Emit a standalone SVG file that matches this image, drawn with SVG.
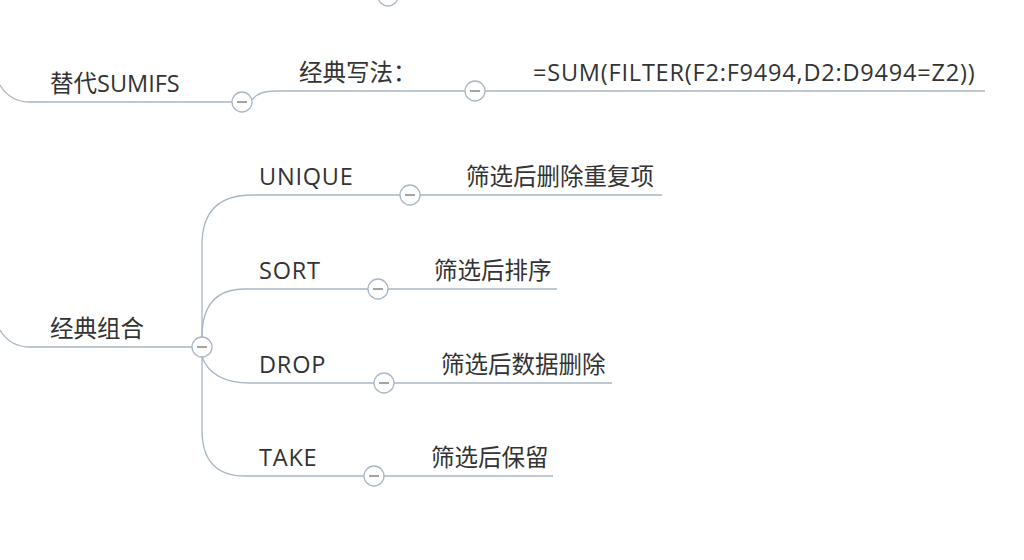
<svg xmlns="http://www.w3.org/2000/svg" width="1024" height="560" viewBox="0 0 1024 560">
<style>
.l{fill:none;stroke:#a9b6c6;stroke-width:1.3}
.c{fill:#fff;stroke:#a9b6c6;stroke-width:1.3}
.m{stroke:#666;stroke-width:1.2}
text{font-family:"Open Sans","Noto Sans CJK SC",sans-serif;font-size:23.5px;fill:#333}
</style>
<rect width="1024" height="560" fill="#fff"/>
<g id="connectors">
<path class="l" d="M0,85 Q10,102 30,102 H232"/>
<path class="l" d="M252,100 Q258,91 275,91 H465 M485,91 H985"/>
<path class="l" d="M0,330 Q10,347 30,347 H192"/>
<path class="l" d="M202,337 V245 Q202,195 252,195 H400 M420,195 H662"/>
<path class="l" d="M202,337 Q202,289 245,289 H368 M388,289 H557"/>
<path class="l" d="M202,357 Q212,383 250,383 H374 M394,383 H612"/>
<path class="l" d="M202,357 V430 Q202,476 245,476 H364 M384,476 H553"/>
</g>
<g id="top"><circle class="c" cx="388" cy="-4" r="10"/></g>
<g id="n1"><text x="50" y="92">替代SUMIFS</text><circle class="c" cx="242" cy="102" r="10"/><line class="m" x1="237" y1="102" x2="247" y2="102"/></g>
<g id="n2"><text x="299" y="81">经典写法：</text><circle class="c" cx="475" cy="91" r="10"/><line class="m" x1="470" y1="91" x2="480" y2="91"/></g>
<g id="n3"><text x="533" y="81" letter-spacing="0.8">=SUM(FILTER(F2:F9494,D2:D9494=Z2))</text></g>
<g id="n4"><text x="50" y="337">经典组合</text><circle class="c" cx="202" cy="347" r="10"/><line class="m" x1="197" y1="347" x2="207" y2="347"/></g>
<g id="n5"><text x="259" y="185" letter-spacing="0.8">UNIQUE</text><circle class="c" cx="410" cy="195" r="10"/><line class="m" x1="405" y1="195" x2="415" y2="195"/></g>
<g id="n6"><text x="466" y="185">筛选后删除重复项</text></g>
<g id="n7"><text x="259" y="279" letter-spacing="0.8">SORT</text><circle class="c" cx="378" cy="289" r="10"/><line class="m" x1="373" y1="289" x2="383" y2="289"/></g>
<g id="n8"><text x="434" y="279">筛选后排序</text></g>
<g id="n9"><text x="259" y="373" letter-spacing="0.8">DROP</text><circle class="c" cx="384" cy="383" r="10"/><line class="m" x1="379" y1="383" x2="389" y2="383"/></g>
<g id="n10"><text x="441" y="373">筛选后数据删除</text></g>
<g id="n11"><text x="259" y="466" letter-spacing="0.8">TAKE</text><circle class="c" cx="374" cy="476" r="10"/><line class="m" x1="369" y1="476" x2="379" y2="476"/></g>
<g id="n12"><text x="431" y="466">筛选后保留</text></g>
</svg>
